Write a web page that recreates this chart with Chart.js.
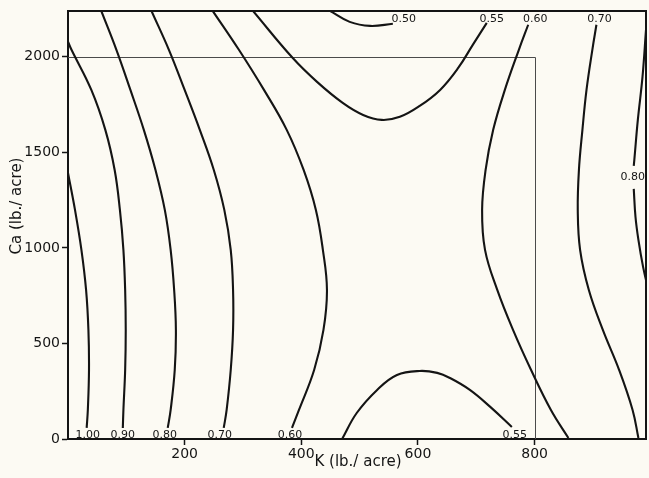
<!DOCTYPE html>
<html><head><meta charset="utf-8">
<script src="https://cdn.jsdelivr.net/npm/chart.js@4/dist/chart.umd.min.js"></script>
<style>html,body{margin:0;padding:0;background:#fcfaf3;}#wrap{width:649px;height:478px;}</style>
</head><body><div id="wrap"><canvas id="c" width="649" height="478"></canvas></div>
<script>
// axis ticks
const xTicks = [200, 400, 600, 800];
const yTicks = [0, 500, 1000, 1500, 2000];
const xTitle = 'K (lb./ acre)';
const yTitle = 'Ca (lb./ acre)';
const xRange = [0, 991];
const yRange = [0, 2240];
const innerBox = [800, 2000];

// contour traces (K, Ca)
const c100 = [{x:0,y:1393},{x:12,y:1199},{x:23,y:990},{x:31,y:780},{x:35,y:571},{x:36,y:361},{x:34,y:152},{x:32,y:58}];
const c090 = [{x:0,y:2079},{x:6,y:2037},{x:40,y:1827},{x:64,y:1618},{x:80,y:1408},{x:89,y:1199},{x:95,y:990},{x:98,y:780},{x:99,y:571},{x:98,y:361},{x:95,y:152},{x:94,y:58}];
const c080 = [{x:57,y:2241},{x:83,y:2037},{x:107,y:1827},{x:130,y:1618},{x:150,y:1408},{x:166,y:1199},{x:176,y:990},{x:182,y:780},{x:185,y:571},{x:183,y:361},{x:176,y:152},{x:171,y:58}];
const c070 = [{x:143,y:2241},{x:173,y:2037},{x:200,y:1827},{x:226,y:1618},{x:250,y:1408},{x:268,y:1199},{x:279,y:990},{x:283,y:780},{x:283,y:571},{x:279,y:361},{x:272,y:152},{x:267,y:58}];
const c060a = [{x:248,y:2241},{x:293,y:2037},{x:336,y:1827},{x:375,y:1618},{x:404,y:1408},{x:425,y:1199},{x:437,y:990},{x:444,y:780},{x:438,y:571},{x:422,y:361},{x:396,y:152},{x:384,y:58}];
const c055a = [{x:317,y:2241},{x:385,y:1995},{x:427,y:1869},{x:471,y:1759},{x:506,y:1696},{x:538,y:1670},{x:569,y:1686},{x:603,y:1743},{x:638,y:1827},{x:669,y:1942},{x:694,y:2063},{x:718,y:2178}];
const c050 = [{x:449,y:2241},{x:483,y:2183},{x:518,y:2162},{x:557,y:2173}];
const c055b = [{x:470,y:0},{x:495,y:136},{x:530,y:257},{x:564,y:335},{x:603,y:356},{x:633,y:346},{x:655,y:319},{x:689,y:257},{x:724,y:168},{x:761,y:63}];
const c060b = [{x:789,y:2168},{x:773,y:2037},{x:749,y:1827},{x:729,y:1618},{x:716,y:1408},{x:710,y:1199},{x:715,y:990},{x:736,y:780},{x:763,y:571},{x:794,y:361},{x:828,y:152},{x:858,y:5}];
const c070b = [{x:906,y:2168},{x:899,y:2037},{x:889,y:1827},{x:882,y:1618},{x:876,y:1408},{x:874,y:1199},{x:878,y:990},{x:893,y:780},{x:917,y:571},{x:945,y:361},{x:968,y:152},{x:978,y:5}];
const c080b1 = [{x:991,y:2141},{x:985,y:1895},{x:977,y:1670},{x:971,y:1461},{x:970,y:1429}];
const c080b2 = [{x:970,y:1309},{x:973,y:1162},{x:978,y:1042},{x:986,y:901},{x:995,y:780}];

const segments = {c100, c090, c080, c070, c060a, c055a, c050, c055b, c060b, c070b, c080b1, c080b2};

// contour labels: which segment end they belong to
const contourLabels = [
  {text:'1.00', seg:'c100', end:'last', place:'bottom', dx:1},
  {text:'0.90', seg:'c090', end:'last', place:'bottom', dx:0},
  {text:'0.80', seg:'c080', end:'last', place:'bottom', dx:-3},
  {text:'0.70', seg:'c070', end:'last', place:'bottom', dx:-4},
  {text:'0.60', seg:'c060a', end:'last', place:'bottom', dx:-2},
  {text:'0.55', seg:'c055b', end:'last', place:'bottom', dx:3},
  {text:'0.55', seg:'c055a', end:'last', place:'top', dx:5},
  {text:'0.50', seg:'c050', end:'last', place:'top', dx:11},
  {text:'0.60', seg:'c060b', end:'first', place:'top', dx:7},
  {text:'0.70', seg:'c070b', end:'first', place:'top', dx:3},
  {text:'0.80', seg:'c080b1', end:'last', place:'below', dx:-1}
];

const INK = '#141414';
const FONT = '"DejaVu Sans", sans-serif';

const datasets = Object.keys(segments).map(k => ({
  label: k, data: segments[k], showLine: true, borderColor: INK, borderWidth: 2.1,
  pointRadius: 0, tension: 0.4, fill: false
}));

const deco = {
  id: 'deco',
  beforeDatasetsDraw(chart) {
    const {ctx, chartArea: a, scales: {x, y}} = chart;
    ctx.save();
    ctx.strokeStyle = '#4a4a4a'; ctx.lineWidth = 1;
    const bx = Math.round(x.getPixelForValue(innerBox[0])) + 0.5;
    const by = Math.round(y.getPixelForValue(innerBox[1])) + 0.5;
    ctx.beginPath();
    ctx.moveTo(a.left, by); ctx.lineTo(bx, by); ctx.lineTo(bx, a.bottom);
    ctx.stroke();
    ctx.restore();
  },
  afterDraw(chart) {
    const {ctx, chartArea: a, scales: {x, y}} = chart;
    ctx.save();
    ctx.strokeStyle = INK; ctx.lineWidth = 2;
    ctx.beginPath();
    ctx.moveTo(a.left, a.top); ctx.lineTo(a.right, a.top); ctx.lineTo(a.right, a.bottom);
    ctx.stroke();
    ctx.fillStyle = INK;
    ctx.font = '11px ' + FONT;
    ctx.textAlign = 'center';
    contourLabels.forEach(l => {
      const s = segments[l.seg];
      const p = l.end === 'last' ? s[s.length - 1] : s[0];
      const px = x.getPixelForValue(p.x) + l.dx;
      const py = y.getPixelForValue(p.y);
      if (l.place === 'bottom') { ctx.textBaseline = 'alphabetic'; ctx.fillText(l.text, px, a.bottom - 1); }
      else if (l.place === 'top') { ctx.textBaseline = 'alphabetic'; ctx.fillText(l.text, px, a.top + 10.5); }
      else { ctx.textBaseline = 'middle'; ctx.fillText(l.text, px, py + 11); }
    });
    ctx.font = '15px ' + FONT;
    ctx.textAlign = 'center'; ctx.textBaseline = 'middle';
    ctx.fillText(xTitle, 358, 462);
    ctx.translate(17, 206); ctx.rotate(-Math.PI / 2);
    ctx.fillText(yTitle, 0, 0);
    ctx.restore();
  }
};

new Chart(document.getElementById('c'), {
  type: 'scatter',
  data: { datasets },
  options: {
    responsive: false, animation: false, devicePixelRatio: 1,
    layout: { padding: { left: 0, top: 11, right: 3, bottom: 0 } },
    plugins: { legend: { display: false }, tooltip: { enabled: false } },
    scales: {
      x: {
        type: 'linear', min: xRange[0], max: xRange[1],
        afterBuildTicks: s => { s.ticks = xTicks.map(v => ({ value: v })); },
        afterFit: s => { s.height = 39; },
        grid: { drawOnChartArea: false, drawTicks: true, tickLength: 6, tickColor: INK, tickWidth: 1.5 },
        border: { display: true, color: INK, width: 2 },
        ticks: { color: INK, font: { family: FONT, size: 14 }, padding: 1, maxRotation: 0, callback: v => String(v) }
      },
      y: {
        type: 'linear', min: yRange[0], max: yRange[1],
        afterBuildTicks: s => { s.ticks = yTicks.map(v => ({ value: v })); },
        afterFit: s => { s.width = 68; },
        grid: { drawOnChartArea: false, drawTicks: true, tickLength: 6, tickColor: INK, tickWidth: 1.5 },
        border: { display: true, color: INK, width: 2 },
        ticks: { color: INK, font: { family: FONT, size: 14 }, padding: 2, callback: v => String(v) }
      }
    }
  },
  plugins: [deco]
});
</script>
</body></html>
